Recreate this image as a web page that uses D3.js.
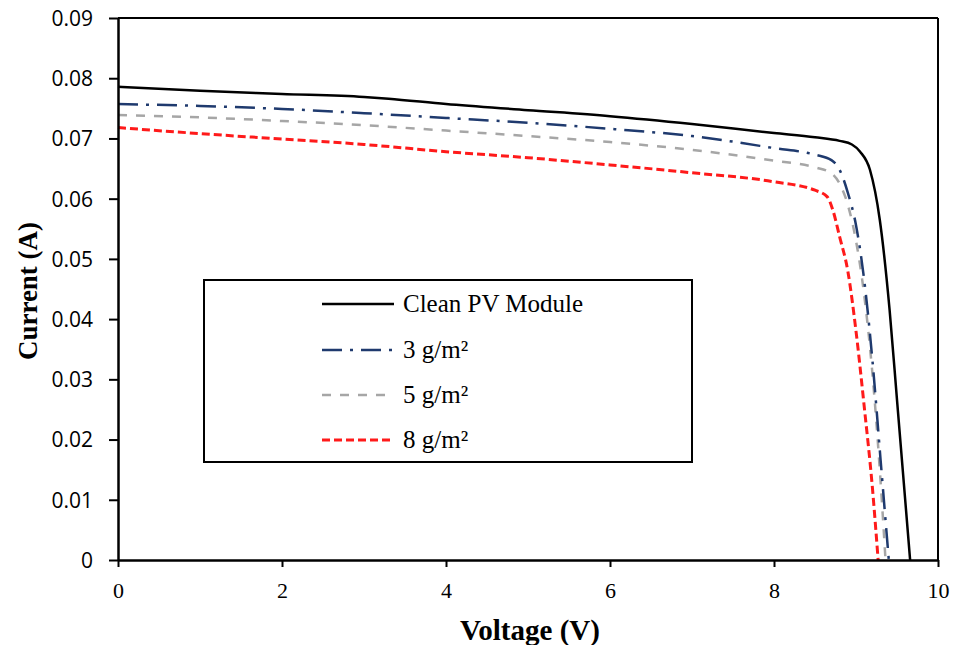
<!DOCTYPE html>
<html><head><meta charset="utf-8">
<script src="https://cdn.jsdelivr.net/npm/d3@7"></script>
<style>body{margin:0;background:#fff}
svg text{font-family:"Liberation Serif","DejaVu Serif",serif;}
svg text.ysans{font-family:"Open Sans","Liberation Sans",sans-serif;}
</style>
</head><body><svg id="c" width="953" height="645"></svg>
<script>
const xTicks = [0,2,4,6,8,10];
const yTicks = [0,0.01,0.02,0.03,0.04,0.05,0.06,0.07,0.08,0.09];
const seriesNames = ["Clean PV Module","3 g/m\u00b2","5 g/m\u00b2","8 g/m\u00b2"];
const cleanV = [0,1,2,3,3.3,4,5,6,7,8,8.5,8.8,8.95,9.05,9.17,9.29,9.41,9.5,9.66];
const cleanI = [0.0786,0.0779,0.0774,0.0769,0.0766,0.0757,0.0747,0.0737,0.0724,0.0709,0.0702,0.0696,0.0690,0.0678,0.0648,0.0565,0.0415,0.0266,0];
const g3V = [0,1,2,3,4,5,6,7,8,8.5,8.7,8.8,8.9,9.0,9.1,9.2,9.3,9.4];
const g3I = [0.0757,0.0754,0.0749,0.0742,0.0734,0.0726,0.0716,0.0704,0.0684,0.0673,0.0664,0.0648,0.061,0.0556,0.0465,0.0332,0.0166,0];
const g5V = [0,1,2,3,4,5,6,7,8,8.5,8.7,8.8,8.9,9.0,9.1,9.2,9.3,9.36];
const g5I = [0.0739,0.0735,0.0729,0.0722,0.0713,0.0704,0.0694,0.0681,0.0663,0.0652,0.0642,0.0625,0.059,0.053,0.044,0.031,0.013,0];
const g8V = [0,1,2,3,4,5,6,7,8,8.5,8.65,8.72,8.8,8.9,9.0,9.1,9.2,9.27];
const g8I = [0.0718,0.0708,0.0699,0.0690,0.0678,0.0668,0.0656,0.0643,0.0628,0.0614,0.0603,0.058,0.0537,0.048,0.038,0.0255,0.012,0];

const styles = [
  {color:"#000000", dash:null, w:2.5},
  {color:"#1f3a6e", dash:"20,8,3,8", w:2.5},
  {color:"#a6a6a6", dash:"9,9", w:2.5},
  {color:"#ff1a1a", dash:"8,4", w:3}
];
const series = [[cleanV,cleanI],[g3V,g3I],[g5V,g5I],[g8V,g8I]].map((p,i)=>({
  name:seriesNames[i], pts:p[0].map((v,j)=>[v,p[1][j]]), st:styles[i]}));

const svg = d3.select("#c");
const L=118,R=938,T=18,B=560;
const x = d3.scaleLinear().domain([0,10]).range([L,R]);
const y = d3.scaleLinear().domain([0,0.09]).range([B,T]);

const line = d3.line().x(d=>x(d[0])).y(d=>y(d[1])).curve(d3.curveMonotoneX);
[3,2,1,0].forEach(i=>{
  const s=series[i];
  svg.append("path").attr("d",line(s.pts)).attr("fill","none")
    .attr("stroke",s.st.color).attr("stroke-width",s.st.w)
    .attr("stroke-dasharray",s.st.dash);
});

svg.append("line").attr("x1",L).attr("x2",R).attr("y1",T).attr("y2",T).attr("stroke","#000").attr("stroke-width",2);
svg.append("line").attr("x1",R).attr("x2",R).attr("y1",T).attr("y2",B).attr("stroke","#000").attr("stroke-width",2);

const xa = svg.append("g").attr("transform",`translate(0,${B})`)
  .call(d3.axisBottom(x).tickValues(xTicks).tickFormat(d3.format("d")).tickSize(7).tickSizeOuter(0));
const ya = svg.append("g").attr("transform",`translate(${L},0)`)
  .call(d3.axisLeft(y).tickValues(yTicks).tickFormat(d=>d===0?"0":d3.format(".2f")(d)).tickSize(9).tickSizeOuter(0));
[xa,ya].forEach(a=>{
  a.attr("font-family",null);
  a.select(".domain").attr("stroke","#000").attr("stroke-width",2.5);
  a.selectAll(".tick line").attr("stroke","#000").attr("stroke-width",2);
  a.selectAll("text").attr("fill","#000");
});
xa.selectAll("text").attr("font-size",22).attr("y",38).attr("dy",null);
ya.selectAll("text").attr("class","ysans").attr("font-size",21).attr("x",-25).attr("dy","0.35em");

svg.append("text").attr("x",(L+R)/2+2).attr("y",640).attr("text-anchor","middle")
  .attr("font-weight","bold").attr("font-size",29)
  .attr("textLength",140).attr("lengthAdjust","spacingAndGlyphs").text("Voltage (V)");
svg.append("text").attr("transform",`translate(37,${(T+B)/2+2}) rotate(-90)`).attr("text-anchor","middle")
  .attr("font-weight","bold").attr("font-size",28)
  .attr("textLength",138).attr("lengthAdjust","spacingAndGlyphs").text("Current (A)");

svg.append("rect").attr("x",204).attr("y",280).attr("width",488).attr("height",182)
  .attr("fill","#fff").attr("stroke","#000").attr("stroke-width",2);
const rows=[304,350,395,440];
series.forEach((s,i)=>{
  svg.append("line").attr("x1",322).attr("x2",394).attr("y1",rows[i]).attr("y2",rows[i])
    .attr("stroke",s.st.color).attr("stroke-width",s.st.w).attr("stroke-dasharray",s.st.dash);
  svg.append("text").attr("x",403).attr("y",rows[i]+8).attr("font-size",25).attr("fill","#000").text(s.name);
});
</script></body></html>
